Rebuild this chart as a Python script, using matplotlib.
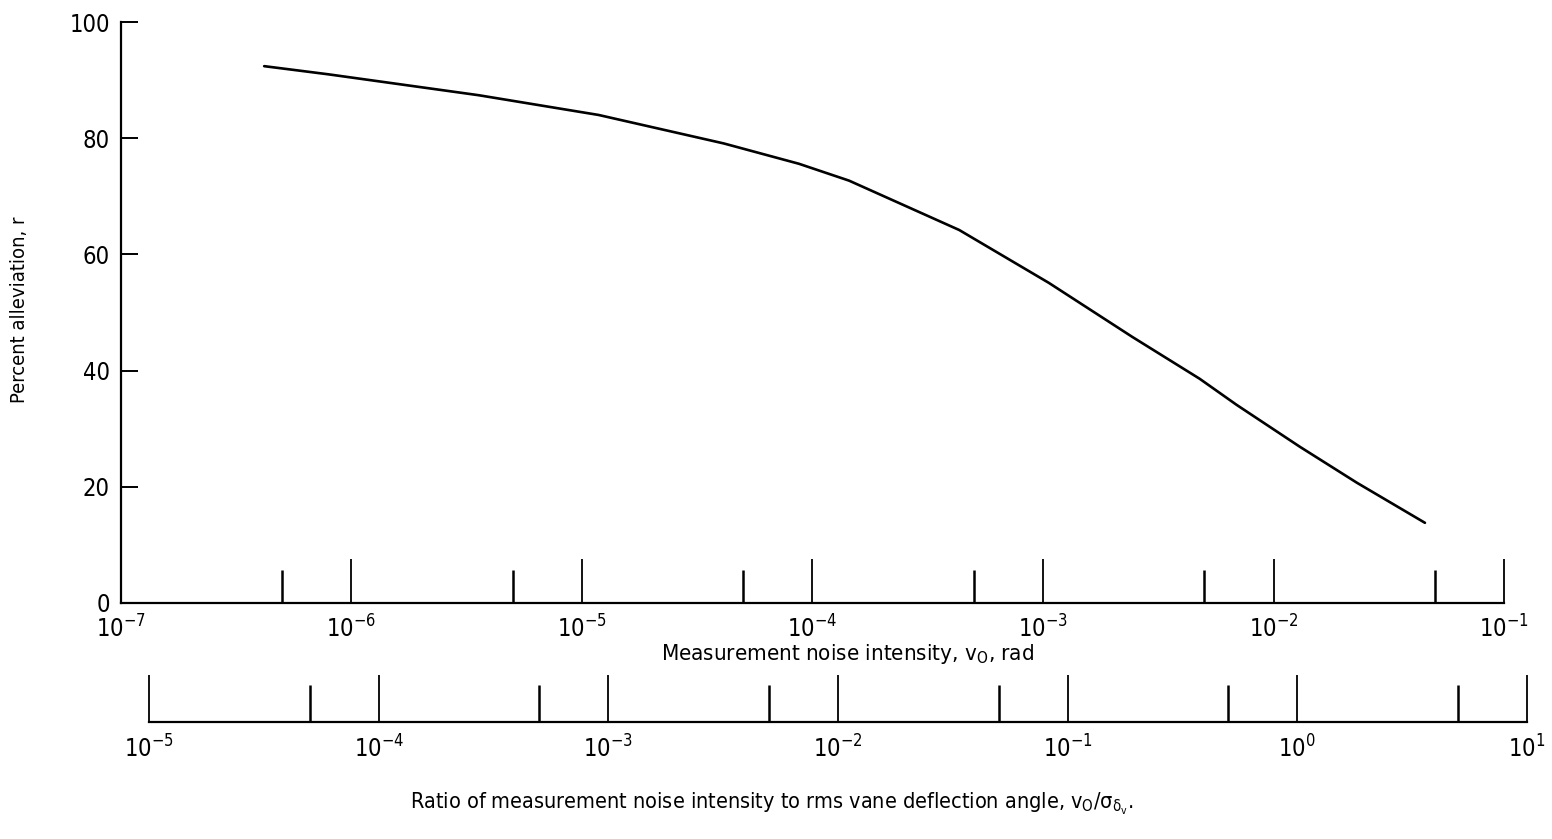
import matplotlib
matplotlib.use("Agg")
import matplotlib.pyplot as plt
from matplotlib import font_manager as fm
from matplotlib.ticker import FixedLocator, FixedFormatter, NullFormatter

# ---- pick a narrow/condensed font if one is installed ----
names = {f.name for f in fm.fontManager.ttflist}
condensed_dejavu = any(f.name == 'DejaVu Sans' and f.stretch in ('condensed', 'semi-condensed')
                       for f in fm.fontManager.ttflist)
if 'Liberation Sans Narrow' in names:
    FONT = 'Liberation Sans Narrow'
    MFONT = 'Liberation Sans Narrow'
elif condensed_dejavu:
    FONT = 'DejaVu Sans'
    plt.rcParams['font.stretch'] = 'condensed'
    MFONT = 'DejaVu Sans:stretch=condensed'
else:
    FONT = 'DejaVu Sans'
    MFONT = 'DejaVu Sans'
plt.rcParams['font.family'] = [FONT, 'DejaVu Sans']
plt.rcParams['mathtext.fontset'] = 'custom'
plt.rcParams['mathtext.rm'] = MFONT
plt.rcParams['mathtext.it'] = MFONT
plt.rcParams['mathtext.sf'] = MFONT
plt.rcParams['mathtext.bf'] = MFONT

# ---- data ----
noise_intensity = [4.18e-7, 7.92e-7, 3.56e-6, 1.18e-5, 4.12e-5, 8.73e-5, 1.44e-4,
                   4.33e-4, 1.06e-3, 2.44e-3, 4.78e-3, 6.92e-3, 1.30e-2, 2.30e-2, 4.54e-2]
percent_alleviation = [92.4, 91.0, 87.4, 84.0, 79.1, 75.6, 72.7,
                       64.2, 55.1, 45.8, 38.6, 34.1, 26.9, 20.7, 13.8]

main_x_ticks = [1e-7, 1e-6, 1e-5, 1e-4, 1e-3, 1e-2, 1e-1]
main_x_labels = ['10$^{-7}$', '10$^{-6}$', '10$^{-5}$', '10$^{-4}$', '10$^{-3}$',
                 '10$^{-2}$', '10$^{-1}$']
main_x_minor = [5e-7, 5e-6, 5e-5, 5e-4, 5e-3, 5e-2]

y_ticks = [0, 20, 40, 60, 80, 100]
y_labels = ['0', '20', '40', '60', '80', '100']

ratio_ticks = [1e-5, 1e-4, 1e-3, 1e-2, 1e-1, 1e0, 1e1]
ratio_labels = ['10$^{-5}$', '10$^{-4}$', '10$^{-3}$', '10$^{-2}$', '10$^{-1}$',
                '10$^{0}$', '10$^{1}$']
ratio_minor = [5e-5, 5e-4, 5e-3, 5e-2, 5e-1, 5e0]

W, H = 1552, 839
fig = plt.figure(figsize=(W / 100, H / 100), dpi=100)

def box(x0, y0, x1, y1):
    return [x0 / W, 1 - y1 / H, (x1 - x0) / W, (y1 - y0) / H]

# ---- main axes ----
ax = fig.add_axes(box(121, 22, 1504, 603))
ax.plot(noise_intensity, percent_alleviation, color='black', lw=1.9,
        solid_joinstyle='round', solid_capstyle='round')
ax.set_xscale('log')
ax.set_xlim(main_x_ticks[0], main_x_ticks[-1])
ax.set_ylim(0, 100)
for s in ['top', 'right']:
    ax.spines[s].set_visible(False)
for s in ['left', 'bottom']:
    ax.spines[s].set_linewidth(1.6)
ax.xaxis.set_major_locator(FixedLocator(main_x_ticks))
ax.xaxis.set_major_formatter(FixedFormatter(main_x_labels))
ax.xaxis.set_minor_locator(FixedLocator(main_x_minor))
ax.xaxis.set_minor_formatter(NullFormatter())
ax.yaxis.set_major_locator(FixedLocator(y_ticks))
ax.yaxis.set_major_formatter(FixedFormatter(y_labels))
ax.tick_params(axis='x', which='major', direction='in', length=32, width=1.3,
               labelsize=17, pad=9)
ax.tick_params(axis='x', which='minor', direction='in', length=24, width=1.8)
ax.tick_params(axis='y', which='major', direction='in', length=12, width=1.4,
               labelsize=17, pad=8)
ax.set_ylabel('Percent alleviation, r', fontsize=14.5, va='center')
ax.yaxis.set_label_coords((20 - 121) / 1383, 0.505)
fig.text(848 / W, 1 - 654 / H, 'Measurement noise intensity, v$_{\\mathregular{O}}$, rad',
         ha='center', va='center', fontsize=16)

# ---- secondary scale ----
ax2 = fig.add_axes(box(149, 672, 1527, 722))
ax2.set_xscale('log')
ax2.set_xlim(ratio_ticks[0], ratio_ticks[-1])
ax2.set_ylim(0, 1)
for s in ['top', 'right', 'left']:
    ax2.spines[s].set_visible(False)
ax2.spines['bottom'].set_linewidth(1.6)
ax2.set_yticks([])
ax2.patch.set_alpha(0)
ax2.xaxis.set_major_locator(FixedLocator(ratio_ticks))
ax2.xaxis.set_major_formatter(FixedFormatter(ratio_labels))
ax2.xaxis.set_minor_locator(FixedLocator(ratio_minor))
ax2.xaxis.set_minor_formatter(NullFormatter())
ax2.tick_params(axis='x', which='major', direction='in', length=34, width=1.3,
                labelsize=17, pad=10)
ax2.tick_params(axis='x', which='minor', direction='in', length=27, width=1.8)
fig.text(772 / W, 1 - 804 / H,
         'Ratio of measurement noise intensity to rms vane deflection angle, '
         'v$_{\\mathregular{O}}$/\u03c3$_{\\mathregular{\u03b4}_{\\mathregular{v}}}$.',
         ha='center', va='center', fontsize=15.5)

fig.savefig('out.png', dpi=100)
